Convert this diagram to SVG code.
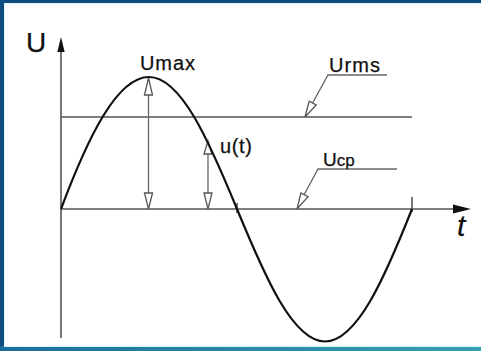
<svg xmlns="http://www.w3.org/2000/svg" width="481" height="351" viewBox="0 0 481 351">
<defs>
<linearGradient id="bot" x1="0" y1="0" x2="1" y2="0"><stop offset="0" stop-color="#1b6f9a"/><stop offset="1" stop-color="#35a0b0"/></linearGradient>
</defs>
<style>
.axis{stroke:#555;stroke-width:1.6;fill:none}
.dim{stroke:#666;stroke-width:1.3;fill:none}
.head{fill:#fff;stroke:#555;stroke-width:1.3}
.solid{fill:#111}
.curve{stroke:#111;stroke-width:2.2;fill:none}
.lbl{font-family:"Liberation Sans",Arial,sans-serif;fill:#111;stroke:#111;stroke-width:0.25}
</style>
<g id="frame">
<rect x="0" y="0" width="481" height="351" fill="#0f4c80"/>
<rect x="0" y="346" width="481" height="5" fill="url(#bot)"/>
<rect x="4" y="3" width="477" height="344" fill="#dff4fa"/>
<rect x="5" y="4.5" width="476" height="341.5" fill="#fff"/>
</g>
<g id="connectors">
<line class="axis" x1="61" y1="50" x2="61" y2="338"/>
<polygon class="solid" points="61,37 57.3,52 64.7,52"/>
<line class="axis" x1="61" y1="209" x2="455" y2="209"/>
<polygon class="solid" points="471,209 453,204.5 453,213.5"/>
<line class="axis" x1="61" y1="117" x2="412" y2="117"/>
<line class="axis" x1="412" y1="197" x2="412" y2="212"/>
<line class="axis" x1="237" y1="203" x2="237" y2="213"/>
<line class="dim" x1="148.5" y1="90" x2="148.5" y2="196"/>
<polygon class="head" points="148.5,78 144.5,95 152.5,95"/>
<polygon class="head" points="148.5,209 144.5,193 152.5,193"/>
<line class="dim" x1="208" y1="150" x2="208" y2="196"/>
<polygon class="head" points="208,141 204,154 212,154"/>
<polygon class="head" points="208,209 204,193 212,193"/>
<polyline class="dim" points="387,75 328,75 312,104"/>
<polygon class="head" points="305,117 316.2,104.9 309.2,101.1"/>
<polyline class="dim" points="397,169 318,169 304,195"/>
<polygon class="head" points="297,209 308,196.7 300.9,193"/>
</g>
<g id="wave">
<path class="curve" d="M61,209 C88,137 117,77 149,77 C181,77 209,141 237,209 C265,277 293,341.5 325,341.5 C357,341.5 385,277 412,209"/>
</g>
<g id="labels">
<text class="lbl" x="26" y="52" font-size="28">U</text>
<text class="lbl" x="140" y="70" font-size="20" textLength="55">Umax</text>
<text class="lbl" x="329" y="72" font-size="20" textLength="51">Urms</text>
<text class="lbl" x="220" y="153" font-size="20" textLength="32">u(t)</text>
<text class="lbl" x="323" y="166" font-size="19">U<tspan font-size="17">cp</tspan></text>
<text class="lbl" x="457" y="236" font-size="30" font-style="italic">t</text>
</g>
</svg>
